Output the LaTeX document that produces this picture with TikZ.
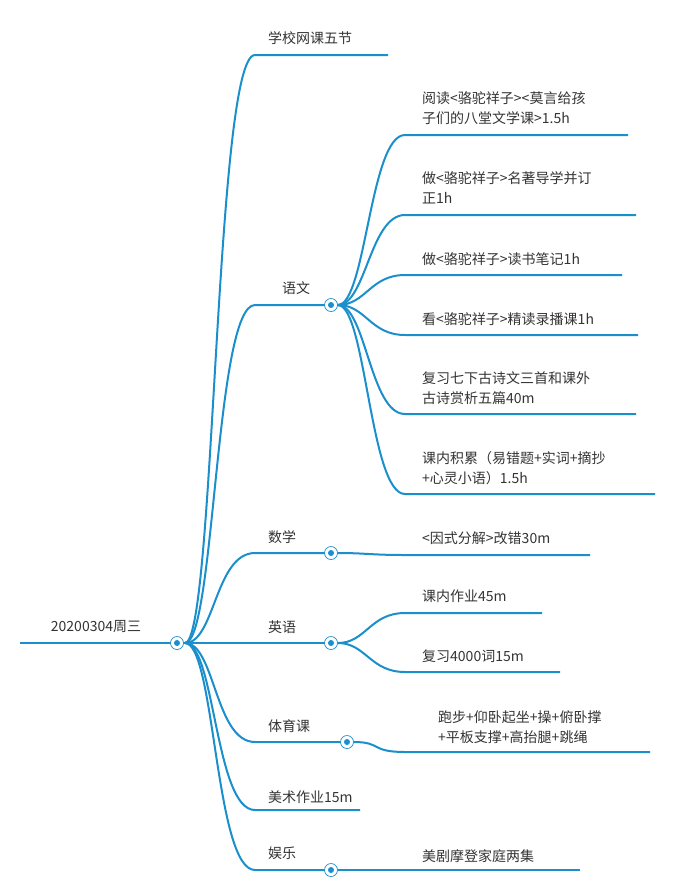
\documentclass[tikz,border=0pt]{standalone}
\usepackage{fontspec}
\usetikzlibrary{calc}
\setmainfont{Noto Sans CJK SC}
\definecolor{mb}{HTML}{1B8FCC}
\definecolor{tx}{HTML}{333333}
\begin{document}
\begin{tikzpicture}[x=1pt,y=-1pt,
  ln/.style={draw=mb,line width=2pt},
  txt/.style={anchor=west,text=tx,font=\fontsize{14}{20}\selectfont,inner sep=0pt,align=left},
  knob/.style={circle,draw=mb,fill=white,line width=0.7pt,minimum size=13pt,inner sep=0pt,
     path picture={\fill[mb] (path picture bounding box.center) circle (3pt);}}]
\useasboundingbox (0,0) rectangle (688,892);
% root
\coordinate (r0) at (20,643);
\node[txt,anchor=center] (rt) at (96,627) {20200304周三};
\coordinate (rs) at (185,643);
% level 1 ends
\foreach \n/\y/\e in {a/55/388, b/305/325, c/553/325, d/643/325, e/742/341, f/810/360, g/870/325}{
  \coordinate (\n e) at (\e,\y);
  \coordinate (\n m) at (255,\y);
}
\node[txt] at (268,38) {学校网课五节};
\node[txt] at (282,288) {语文};
\node[txt] at (268,537) {数学};
\node[txt] at (268,627) {英语};
\node[txt] at (268,726) {体育课};
\node[txt] at (268,797) {美术作业15m};
\node[txt] at (268,853) {娱乐};
\begin{scope}[ln]
\draw (r0) -- (rs);
\foreach \n in {a,b,c,d,e,f,g}{
  \draw (rs) .. controls ($(rs)+(30,0)$) and ($(\n m)+(-40,0)$) .. (\n m) -- (\n e);
}
\end{scope}
\node[knob] (b) at (331,305) {};
\node[knob] (c) at (331,553) {};
\node[knob] (d) at (331,643) {};
\node[knob] (e) at (347,742) {};
\node[knob] (g) at (331,870) {};
\node[knob] (r) at (177,643) {};
% level 2
\foreach \p/\n/\y/\e in {b/b1/135/628, b/b2/215/636, b/b3/275/622, b/b4/335/638, b/b5/414/636, b/b6/494/655,
   c/c1/555/590, d/d1/613/542, d/d2/672/560, e/e1/752/650, g/g1/870/580}{
  \coordinate (\n e) at (\e,\y);
  \coordinate (\n m) at (405,\y);
  \draw[ln] (\p.east) .. controls ($(\p.east)+(28,0)$) and ($(\n m)+(-35,0)$) .. (\n m) -- (\n e);
}
\node[txt] at (422,108) {阅读<骆驼祥子><莫言给孩\\子们的八堂文学课>1.5h};
\node[txt] at (422,188) {做<骆驼祥子>名著导学并订\\正1h};
\node[txt] at (422,259) {做<骆驼祥子>读书笔记1h};
\node[txt] at (422,319) {看<骆驼祥子>精读录播课1h};
\node[txt] at (422,388) {复习七下古诗文三首和课外\\古诗赏析五篇40m};
\node[txt] at (422,468) {课内积累（易错题+实词+摘抄\\+心灵小语）1.5h};
\node[txt] at (422,538) {<因式分解>改错30m};
\node[txt] at (422,596) {课内作业45m};
\node[txt] at (422,656) {复习4000词15m};
\node[txt] at (438,727) {跑步+仰卧起坐+操+俯卧撑\\+平板支撑+高抬腿+跳绳};
\node[txt] at (422,856) {美剧摩登家庭两集};
\end{tikzpicture}
\end{document}
